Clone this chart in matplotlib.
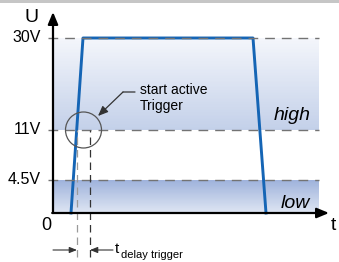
import numpy as np
import matplotlib
matplotlib.use('Agg')
import matplotlib.pyplot as plt
from matplotlib.patches import Circle, Rectangle
from matplotlib.transforms import IdentityTransform

plt.rcParams['font.family'] = ['Liberation Sans', 'DejaVu Sans']

# output voltage trace (time in arbitrary units, voltage in V)
t_trace = [18, 30, 200, 213]
u_trace = [0, 30, 30, 0]

# threshold levels
levels = [30, 11, 4.5]
level_labels = ['30V', '11V', '4.5V']
high_band = (11, 30)
low_band = (0, 4.5)

t_trigger = 24      # trace crosses the 11V threshold
t_delay_end = 37    # trigger becomes active
t_end = 266         # end of shaded bands
t_axis_end = 276

# schematic (not proportional) voltage axis: volts -> pixel height above zero
knot_v = [-50, 0, 4.5, 11, 30, 80]
knot_h = [-50 * 33 / 4.5, 0, 33, 83, 175, 175 + 50 * 92 / 19]


def fwd(v):
    return np.interp(v, knot_v, knot_h)


def inv(h):
    return np.interp(h, knot_h, knot_v)


W, H = 339, 262
fig = plt.figure(figsize=(W / 100, H / 100), dpi=100)
ax = fig.add_axes([0, 0, 1, 1])
ax.set_yscale('function', functions=(fwd, inv))
ax.set_xlim(-53, W - 53)
ax.set_ylim(float(inv(-49)), float(inv(213)))
ax.axis('off')


def fy(y):
    # image row -> figure pixel y
    return H - y


def gradient_band(v0, v1, c_bottom, c_top, n=60):
    c0 = np.array(matplotlib.colors.to_rgb(c_bottom))
    c1 = np.array(matplotlib.colors.to_rgb(c_top))
    h = np.linspace(fwd(v0), fwd(v1), n + 1)
    for i in range(n):
        c = c0 + (c1 - c0) * (i + 0.5) / n
        ax.fill_between([0, t_end], inv(h[i]), inv(h[i + 1] + 0.3),
                        color=c, lw=0, antialiased=False, zorder=1)


gradient_band(*high_band, '#c3d0e9', '#f4f6fb')
gradient_band(*low_band, '#dfe6f3', '#9eb2db')

# threshold lines
ax.hlines(levels, -5, t_end, colors='#737373', lw=1.0,
          linestyles=(0, (7, 5)), zorder=4)
for lv, lab in zip(levels, level_labels):
    ax.text(-12, lv, lab, ha='right', va='center', fontsize=11.5)

# trace
ax.plot(t_trace, u_trace, color='#1565b5', lw=2.1, zorder=3)

# trigger delay markers
ax.vlines(t_trigger, float(inv(-44)), 11, colors='#9a9a9a', lw=0.9,
          linestyles=(0, (6, 4)), zorder=4)
ax.vlines(t_delay_end, float(inv(-44)), 11, colors='#333333', lw=0.9,
          linestyles=(0, (6, 4)), zorder=4)

cx, cy = ax.transData.transform(((t_trigger + t_delay_end) / 2, 11))
fig.add_artist(Circle((cx, cy), 18, transform=IdentityTransform(),
                      fill=False, ec='#555555', lw=0.9, zorder=5))

# axes with arrows
ax.annotate('', xy=(0, float(inv(201))), xytext=(0, 0),
            arrowprops=dict(arrowstyle='-|>,head_length=0.6,head_width=0.25',
                            lw=1.6, color='black', mutation_scale=12,
                            shrinkA=0, shrinkB=0), zorder=6)
ax.annotate('', xy=(t_axis_end, 0), xytext=(-0.8, 0),
            arrowprops=dict(arrowstyle='-|>,head_length=0.6,head_width=0.25',
                            lw=1.6, color='black', mutation_scale=12,
                            shrinkA=0, shrinkB=0), zorder=6)

ax.annotate('U', xy=(31, fy(18)), xycoords='figure pixels',
            ha='center', va='center', fontsize=14)
ax.annotate('t', xy=(331, fy(225)), xycoords='figure pixels',
            ha='left', va='center', fontsize=14)
ax.annotate('0', xy=(46, fy(226)), xycoords='figure pixels',
            ha='center', va='center', fontsize=13)
ax.annotate('high', xy=(292, fy(116)), xycoords='figure pixels',
            ha='center', va='center', fontsize=14, style='italic')
ax.annotate('low', xy=(295, fy(203)), xycoords='figure pixels',
            ha='center', va='center', fontsize=14, style='italic')

# "start active Trigger" callout
ax.annotate('', xy=(123, fy(92)), xytext=(135, fy(92)),
            xycoords='figure pixels',
            arrowprops=dict(arrowstyle='-', lw=0.9, color='#333333',
                            shrinkA=0, shrinkB=0))
ax.annotate('', xy=(98, fy(116)), xytext=(123, fy(92)),
            xycoords='figure pixels',
            arrowprops=dict(arrowstyle='-|>,head_length=0.6,head_width=0.25',
                            lw=0.9, color='#333333', mutation_scale=10,
                            shrinkA=0, shrinkB=0))
ax.annotate('start active\nTrigger', xy=(140, fy(98)),
            xycoords='figure pixels', ha='left', va='center',
            fontsize=10, linespacing=1.15)

# delay dimension
y_dim = float(inv(-37))
dim_style = dict(arrowstyle='-|>,head_length=0.5,head_width=0.2',
                 lw=0.8, color='#333333', mutation_scale=9,
                 shrinkA=0, shrinkB=0)
ax.annotate('', xy=(t_trigger, y_dim), xytext=(0, y_dim), arrowprops=dim_style)
ax.annotate('', xy=(t_delay_end, y_dim), xytext=(60, y_dim), arrowprops=dim_style)
ax.annotate('t', xy=(115, fy(249)), xycoords='figure pixels',
            ha='left', va='center', fontsize=11)
ax.annotate('delay trigger', xy=(121, fy(255)), xycoords='figure pixels',
            ha='left', va='center', fontsize=8)

# grey strip along the top edge
fig.add_artist(Rectangle((0, 1 - 3 / H), 1, 3 / H, transform=fig.transFigure,
                         color='#c6c6c6', lw=0))

fig.savefig('out.png', dpi=100)
